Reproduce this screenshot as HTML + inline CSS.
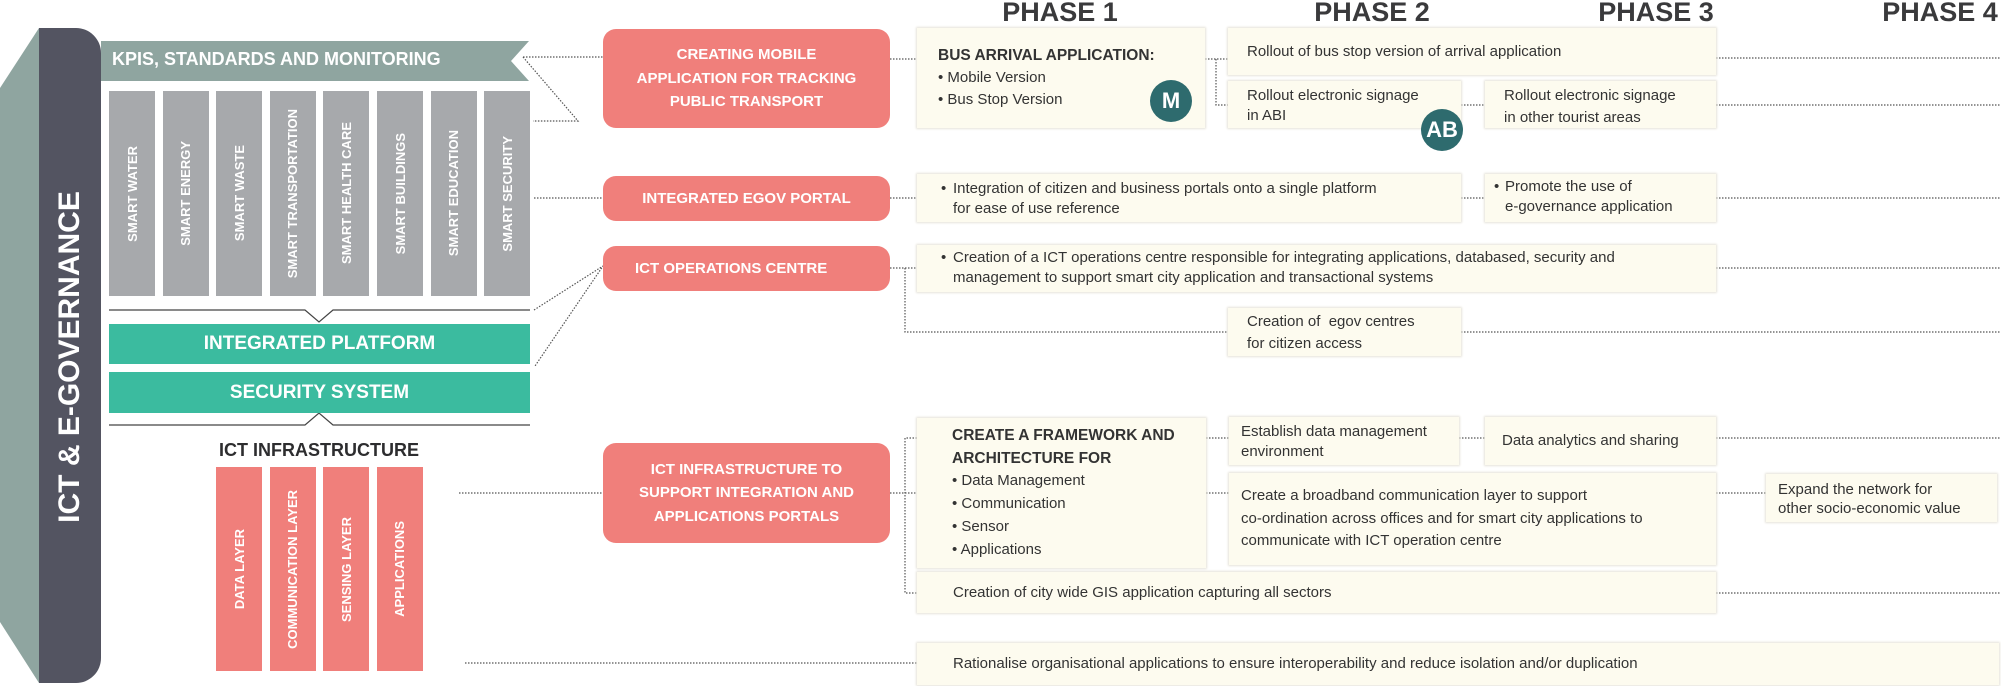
<!DOCTYPE html>
<html><head><meta charset="utf-8"><style>
*{margin:0;padding:0;box-sizing:border-box}
body{width:2001px;height:686px;position:relative;background:#fff;font-family:"Liberation Sans",sans-serif;overflow:hidden;color:#333}
.a{position:absolute}
.col{position:absolute;top:91px;width:46px;height:205px;background:#a7a9ac;display:flex;align-items:center;justify-content:center}
.pcol{position:absolute;top:467px;width:46px;height:204px;background:#f07f7b;display:flex;align-items:center;justify-content:center}
.vt{writing-mode:vertical-rl;transform:rotate(180deg);color:#fff;font-size:13px;font-weight:bold;white-space:nowrap}
.pink{position:absolute;background:#f07f7b;border-radius:13px;color:#fff;font-weight:bold;font-size:15px;display:flex;align-items:center;justify-content:center;text-align:center;line-height:23.5px}
.box{position:absolute;background:#fdfbef;box-shadow:0 0 2px 1px #e6e4da;font-size:15px;line-height:20px;color:#333}
.ph{position:absolute;top:-3px;font-weight:bold;font-size:27px;color:#3a3a3c;transform:translateX(-50%);white-space:nowrap}
.circ{position:absolute;border-radius:50%;background:#2e6b6e;color:#fff;font-weight:bold;display:flex;align-items:center;justify-content:center;font-size:22px}
</style></head><body>
<svg class="a" style="left:0;top:0" width="2001" height="686">
<polygon points="39,28 0,88 0,622 39,683" fill="#8fa5a0"/>
<path d="M39,28 H76 A25,25 0 0 1 101,53 V658 A25,25 0 0 1 76,683 H39 Z" fill="#535461"/>
<polygon points="101,41 529,41 511,61 529,81 101,81" fill="#8fa5a0"/>
<polyline points="109,310 305,310 319,322 333,310 530,310" fill="none" stroke="#444" stroke-width="1.2"/>
<polyline points="109,425 305,425 319,413 333,425 530,425" fill="none" stroke="#444" stroke-width="1.2"/>
<g fill="none" stroke="#555" stroke-width="1.2" stroke-dasharray="1.5,1.5">
<line x1="523" y1="57" x2="603" y2="57"/>
<polyline points="523,57 578,121 533,121"/>
<line x1="534" y1="198" x2="603" y2="198"/>
<polyline points="534,310 603,266 535,366"/>
<line x1="459" y1="493" x2="603" y2="493"/>
<line x1="465" y1="663" x2="917" y2="663"/>
<line x1="890" y1="59" x2="917" y2="59"/>
<line x1="1205" y1="59" x2="1228" y2="59"/>
<polyline points="1216,59 1216,105 1228,105"/>
<line x1="1461" y1="105" x2="1485" y2="105"/>
<line x1="1716" y1="58" x2="2001" y2="58"/>
<line x1="1716" y1="105" x2="2001" y2="105"/>
<line x1="890" y1="198" x2="917" y2="198"/>
<line x1="1461" y1="198" x2="1485" y2="198"/>
<line x1="1716" y1="198" x2="2001" y2="198"/>
<line x1="890" y1="268" x2="917" y2="268"/>
<polyline points="905,268 905,332 1228,332"/>
<line x1="1716" y1="268" x2="2001" y2="268"/>
<line x1="1461" y1="332" x2="2001" y2="332"/>
<line x1="890" y1="493" x2="917" y2="493"/>
<polyline points="917,438 905,438 905,593 917,593"/>
<line x1="1206" y1="438" x2="1229" y2="438"/>
<line x1="1459" y1="438" x2="1485" y2="438"/>
<line x1="1716" y1="438" x2="2001" y2="438"/>
<line x1="1206" y1="493" x2="1229" y2="493"/>
<line x1="1716" y1="493" x2="1766" y2="493"/>
<line x1="1716" y1="593" x2="2001" y2="593"/>
</g>
</svg>
<div class="a" style="left:70px;top:357px;transform:translate(-50%,-50%) rotate(-90deg);color:#fff;font-weight:bold;font-size:30px;white-space:nowrap">ICT &amp; E-GOVERNANCE</div>
<div class="a" style="left:112px;top:49px;color:#fff;font-weight:bold;font-size:18px;white-space:nowrap">KPIS, STANDARDS AND MONITORING</div>
<div class="col" style="left:109px"><span class="vt">SMART WATER</span></div>
<div class="col" style="left:162.6px"><span class="vt">SMART ENERGY</span></div>
<div class="col" style="left:216.2px"><span class="vt">SMART WASTE</span></div>
<div class="col" style="left:269.8px"><span class="vt">SMART TRANSPORTATION</span></div>
<div class="col" style="left:323.4px"><span class="vt">SMART HEALTH CARE</span></div>
<div class="col" style="left:377px"><span class="vt">SMART BUILDINGS</span></div>
<div class="col" style="left:430.6px"><span class="vt">SMART EDUCATION</span></div>
<div class="col" style="left:484.2px"><span class="vt">SMART SECURITY</span></div>
<div class="a" style="left:109px;top:324px;width:421px;height:40px;background:#3bbb9f;color:#fff;font-weight:bold;font-size:19px;display:flex;align-items:center;justify-content:center">INTEGRATED PLATFORM</div>
<div class="a" style="left:109px;top:372px;width:421px;height:41px;background:#3bbb9f;color:#fff;font-weight:bold;font-size:19px;display:flex;align-items:center;justify-content:center">SECURITY SYSTEM</div>
<div class="a" style="left:319px;top:440px;transform:translateX(-50%);font-weight:bold;font-size:18px;color:#2d2d2f;white-space:nowrap">ICT INFRASTRUCTURE</div>
<div class="pcol" style="left:216px"><span class="vt">DATA LAYER</span></div>
<div class="pcol" style="left:269.6px"><span class="vt">COMMUNICATION LAYER</span></div>
<div class="pcol" style="left:323.2px"><span class="vt">SENSING LAYER</span></div>
<div class="pcol" style="left:376.8px"><span class="vt">APPLICATIONS</span></div>

<div class="ph" style="left:1060px">PHASE 1</div>
<div class="ph" style="left:1372px">PHASE 2</div>
<div class="ph" style="left:1656px">PHASE 3</div>
<div class="ph" style="left:1940px">PHASE 4</div>

<div class="pink" style="left:603px;top:29px;width:287px;height:99px">CREATING MOBILE<br>APPLICATION FOR TRACKING<br>PUBLIC TRANSPORT</div>
<div class="pink" style="left:603px;top:176px;width:287px;height:45px">INTEGRATED EGOV PORTAL</div>
<div class="pink" style="left:603px;top:246px;width:287px;height:45px;justify-content:flex-start;padding-left:32px">ICT OPERATIONS CENTRE</div>
<div class="pink" style="left:603px;top:443px;width:287px;height:100px">ICT INFRASTRUCTURE TO<br>SUPPORT INTEGRATION AND<br>APPLICATIONS PORTALS</div>

<div class="box" style="left:917px;top:28px;width:288px;height:100px;padding:17px 0 0 21px;line-height:22px"><b style="font-size:15.5px">BUS ARRIVAL APPLICATION:</b><br>• Mobile Version<br>• Bus Stop Version</div>
<div class="circ" style="left:1150px;top:80px;width:42px;height:42px">M</div>
<div class="box" style="left:1228px;top:28px;width:488px;height:47px;padding:14px 0 0 19px">Rollout of bus stop version of arrival application</div>
<div class="box" style="left:1228px;top:81px;width:233px;height:47px;padding:5px 0 0 19px">Rollout electronic signage<br>in ABI</div>
<div class="circ" style="left:1421px;top:109px;width:42px;height:42px">AB</div>
<div class="box" style="left:1485px;top:81px;width:231px;height:47px;padding:4px 0 0 19px;line-height:22px">Rollout electronic signage<br>in other tourist areas</div>
<div class="box" style="left:917px;top:174px;width:544px;height:48px;padding:5px 0 0 36px">Integration of citizen and business portals onto a single platform<br>for ease of use reference<span class="a" style="left:24px;top:5px">•</span></div>
<div class="box" style="left:1485px;top:174px;width:231px;height:48px;padding:3px 0 0 20px">Promote the use of<br>e-governance application<span class="a" style="left:9px;top:3px">•</span></div>
<div class="box" style="left:917px;top:245px;width:799px;height:47px;padding:3px 0 0 36px">Creation of a ICT operations centre responsible for integrating applications, databased, security and<br>management to support smart city application and transactional systems<span class="a" style="left:24px;top:3px">•</span></div>
<div class="box" style="left:1228px;top:308px;width:233px;height:48px;padding:3px 0 0 19px;line-height:22px">Creation of&nbsp; egov centres<br>for citizen access</div>

<div class="box" style="left:917px;top:418px;width:289px;height:150px;padding:7px 0 0 35px;line-height:22.7px"><b style="font-size:15.5px">CREATE A FRAMEWORK AND<br>ARCHITECTURE FOR</b><br>• Data Management<br>• Communication<br>• Sensor<br>• Applications</div>
<div class="box" style="left:1229px;top:417px;width:230px;height:48px;padding:5px 0 0 12px">Establish data management<br>environment</div>
<div class="box" style="left:1485px;top:417px;width:231px;height:48px;padding:14px 0 0 17px">Data analytics and sharing</div>
<div class="box" style="left:1229px;top:473px;width:487px;height:92px;padding:12px 0 0 12px;line-height:22.5px">Create a broadband communication layer to support<br>co-ordination across offices and for smart city applications to<br>communicate with ICT operation centre</div>
<div class="box" style="left:1766px;top:474px;width:231px;height:48px;padding:6px 0 0 12px;line-height:19px">Expand the network for<br>other socio-economic value</div>
<div class="box" style="left:917px;top:572px;width:799px;height:41px;padding:11px 0 0 36px">Creation of city wide GIS application capturing all sectors</div>
<div class="box" style="left:917px;top:643px;width:1082px;height:42px;padding:11px 0 0 36px">Rationalise organisational applications to ensure interoperability and reduce isolation and/or duplication</div>
</body></html>
